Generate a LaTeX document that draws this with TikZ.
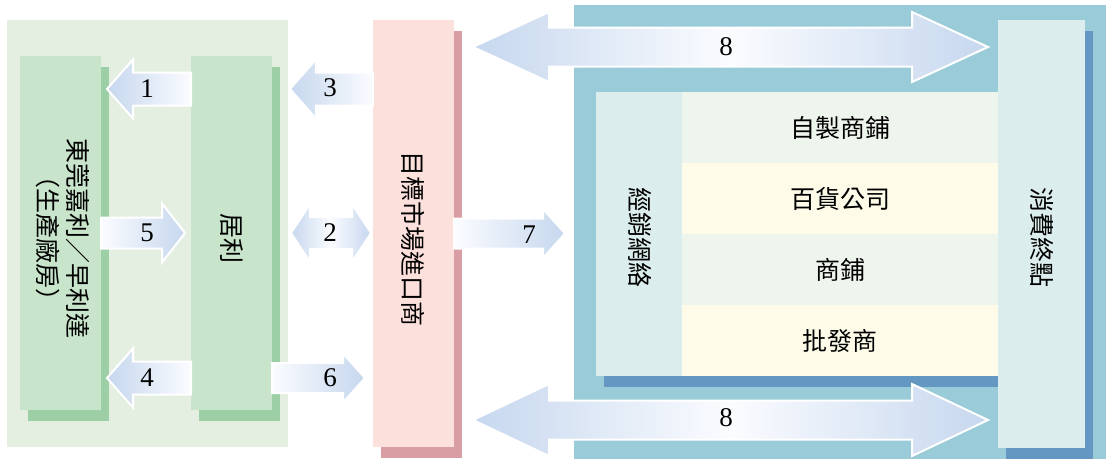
\documentclass[tikz,border=0pt]{standalone}
\usepackage{fontspec}
\setmainfont{Liberation Serif}
\newfontfamily\cjk{Noto Sans CJK TC}
\usetikzlibrary{calc,positioning,shadows}

\definecolor{plantbg}{HTML}{E4EFE2}
\definecolor{plantfill}{HTML}{C8E4CB}
\definecolor{plantshade}{HTML}{9CCFA5}
\definecolor{importfill}{HTML}{FCE0DC}
\definecolor{importshade}{HTML}{D99DA4}
\definecolor{marketbg}{HTML}{99CCD8}
\definecolor{marketfill}{HTML}{DCEDED}
\definecolor{marketshade}{HTML}{6498C3}
\definecolor{rowgreen}{HTML}{EEF5EC}
\definecolor{rowyellow}{HTML}{FEFCE9}
\definecolor{flowblue}{HTML}{C6D7EE}
\definecolor{flowpale}{HTML}{FBFCFF}

\tikzset{
  box/.style={inner sep=0pt, outer sep=0pt, anchor=north west},
  plantbox/.style={box, fill=plantfill, minimum width=81pt, minimum height=354pt,
    general shadow={shadow xshift=8pt, shadow yshift=-11pt, fill=plantshade}},
  importbox/.style={box, fill=importfill, minimum width=81pt, minimum height=427pt,
    general shadow={shadow xshift=8pt, shadow yshift=-11pt, fill=importshade}},
  marketbox/.style={box, fill=marketfill},
  shopbox/.style={box, minimum width=316pt, minimum height=71pt,
    font=\cjk\fontsize{25}{30}\selectfont},
  vtext/.style={font=\cjk\fontsize{25}{30}\selectfont, rotate=-90, align=center},
  num/.style={font=\fontsize{27}{30}\selectfont},
  flowL/.style={draw=white, line width=2pt, left color=flowblue, right color=flowpale},
  flowR/.style={draw=white, line width=2pt, left color=flowpale, right color=flowblue},
  flowLR/.style={draw=white, line width=2pt, left color=flowblue, right color=flowblue,
    middle color=flowpale},
}

% #1 style, #2 tail, #3 tip, #4 half body, #5 half head, #6 head length
\newcommand\flowarrow[6]{%
  \path[#1] let \p1=#2, \p2=#3, \n1={ifthenelse(\x2>\x1,1,-1)} in
    (\x1,{\y1+#4}) -- ({\x2-\n1*#6},{\y1+#4}) -- ({\x2-\n1*#6},{\y1+#5}) -- (\x2,\y1)
    -- ({\x2-\n1*#6},{\y1-#5}) -- ({\x2-\n1*#6},{\y1-#4}) -- (\x1,{\y1-#4}) -- cycle;}
% same, with a head at both ends
\newcommand\flowtwoway[6]{%
  \path[#1] let \p1=#2, \p2=#3, \n1={ifthenelse(\x2>\x1,1,-1)} in
    (\x1,\y1) -- ({\x1+\n1*#6},{\y1+#5}) -- ({\x1+\n1*#6},{\y1+#4})
    -- ({\x2-\n1*#6},{\y1+#4}) -- ({\x2-\n1*#6},{\y1+#5}) -- (\x2,\y1)
    -- ({\x2-\n1*#6},{\y1-#5}) -- ({\x2-\n1*#6},{\y1-#4})
    -- ({\x1+\n1*#6},{\y1-#4}) -- ({\x1+\n1*#6},{\y1-#5}) -- cycle;}

\begin{document}
\begin{tikzpicture}[x=1pt, y=-1pt]
  \useasboundingbox (0,0) rectangle (1112,461);

  % backgrounds
  \fill[plantbg] (7,20) rectangle (288,447);
  \fill[marketbg] (574,5) rectangle (1106,459);

  % production side
  \node[plantbox] (dongguan) at (20,56) {};
  \node[plantbox] (juli) at (191,56) {};
  \node[vtext] (dongguantext) at ($(dongguan.center)+(2,5)$) {東莞嘉利／早利達\\（生產廠房）};
  \node[vtext] (julitext) at ($(juli.center)+(0,5)$) {居利};

  % importer
  \node[importbox] (importer) at (373,20) {};
  \node[vtext] (importertext) at ($(importer.center)+(0,5)$) {目標市場進口商};

  % distribution network
  \fill[marketshade] (604,103) rectangle (1006,387);
  \node[marketbox, minimum width=86pt, minimum height=284pt] (network) at (596,92) {};
  \node[vtext] (networktext) at ($(network.center)+(1,3)$) {經銷網絡};
  \node[shopbox, fill=rowgreen] (ownshop) at (682,92) {自製商鋪};
  \node[shopbox, fill=rowyellow, below=0pt of ownshop] (deptstore) {百貨公司};
  \node[shopbox, fill=rowgreen, below=0pt of deptstore] (shop) {商鋪};
  \node[shopbox, fill=rowyellow, below=0pt of shop] (wholesale) {批發商};

  % consumers
  \node[marketbox, minimum width=87pt, minimum height=428pt,
    general shadow={shadow xshift=8pt, shadow yshift=-11pt, fill=marketshade}] (consumer) at (998,20) {};
  \node[vtext] (consumertext) at ($(consumer.center)+(0,3)$) {消費終點};

  % flows
  \flowarrow{flowL}{($(juli.north west)+(0,33)$)}{($(dongguan.north east)+(6,33)$)}{16.5pt}{29.5pt}{26pt}
  \flowarrow{flowR}{(dongguan.east)}{($(juli.west)+(-6,0)$)}{15.5pt}{29.5pt}{23pt}
  \flowarrow{flowL}{($(juli.south west)+(0,-32)$)}{($(dongguan.south east)+(6,-32)$)}{16.5pt}{29.5pt}{26pt}
  \flowarrow{flowL}{($(importer.north west)+(0,69)$)}{($(juli.north east)+(18,33)$)}{16.5pt}{29.5pt}{26pt}
  \flowtwoway{flowLR}{($(juli.east)+(19,0)$)}{($(importer.west)+(-2,0)$)}{16pt}{29pt}{19pt}
  \flowarrow{flowR}{($(juli.south east)+(0,-32)$)}{($(importer.south west)+(-8,-69)$)}{15pt}{24.5pt}{22pt}
  \flowarrow{flowR}{(importer.east)}{($(network.west)+(-31,0)$)}{15pt}{24.5pt}{22pt}
  \flowtwoway{flowLR}{($(importer.north east)+(19,27)$)}{($(consumer.north west)+(-10,27)$)}{19.5pt}{35pt}{76pt}
  \flowtwoway{flowLR}{($(importer.south east)+(19,-27)$)}{($(consumer.south west)+(-10,-28)$)}{19.5pt}{36pt}{76pt}

  % flow numbers
  \node[num] (n1) at (147,89) {1};
  \node[num] (n5) at (147,233) {5};
  \node[num] (n4) at (147,378) {4};
  \node[num] (n3) at (330,88) {3};
  \node[num] (n2) at (330,233) {2};
  \node[num] (n6) at (330,378) {6};
  \node[num] (n7) at (529,235) {7};
  \node[num] (n8a) at (726,47) {8};
  \node[num] (n8b) at (726,418) {8};
\end{tikzpicture}
\end{document}
